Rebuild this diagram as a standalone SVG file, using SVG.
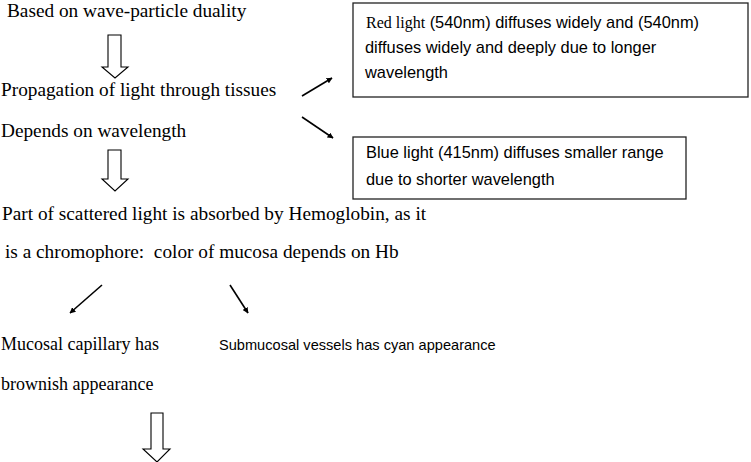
<svg xmlns="http://www.w3.org/2000/svg" width="751" height="462" viewBox="0 0 751 462">
<style>
.s{font-family:"Liberation Serif","Times New Roman",serif;font-size:19.3px;fill:#000;white-space:pre}
.m{font-family:"Liberation Serif","Times New Roman",serif;font-size:18px;fill:#000}
.b{font-family:"Liberation Sans",Arial,sans-serif;font-size:16.4px;fill:#000}
.c{font-family:"Liberation Sans",Arial,sans-serif;font-size:14.6px;fill:#000}
.box{fill:#fff;stroke:#222;stroke-width:1.3}
.hol{fill:#fff;stroke:#000;stroke-width:1.1;stroke-linejoin:miter}
.ln{stroke:#000;stroke-width:1.6;fill:none}
</style>
<defs>
<marker id="ah" viewBox="0 0 10 10" refX="9" refY="5" markerWidth="6" markerHeight="6" markerUnits="userSpaceOnUse" orient="auto">
<path d="M0,0 L10,5 L0,10 z" fill="#000"/>
</marker>
</defs>
<rect width="751" height="462" fill="#fff"/>
<g id="n1"><text class="s" x="7" y="17">Based on wave-particle duality</text></g>
<g id="n2"><text class="s" x="1" y="96">Propagation of light through tissues</text></g>
<g id="n3"><text class="s" x="1" y="137">Depends on wavelength</text></g>
<g id="n4">
<text class="s" x="2" y="220">Part of scattered light is absorbed by Hemoglobin, as it</text>
<text class="s" x="5" y="258" xml:space="preserve">is a chromophore:  color of mucosa depends on Hb</text>
</g>
<g id="n5">
<text class="m" x="1" y="350">Mucosal capillary has</text>
<text class="m" x="1" y="390">brownish appearance</text>
</g>
<g id="n6"><text class="c" x="219" y="350">Submucosal vessels has cyan appearance</text></g>
<g id="box1">
<rect class="box" x="353" y="3" width="395" height="94"/>
<text class="b" x="366" y="28"><tspan font-family="Liberation Serif, serif" font-size="16">Red light</tspan> (540nm) diffuses widely and (540nm)</text>
<text class="b" x="365" y="53">diffuses widely and deeply due to longer</text>
<text class="b" x="365" y="78">wavelength</text>
</g>
<g id="box2">
<rect class="box" x="353" y="137" width="333" height="62"/>
<text class="b" x="366" y="158">Blue light (415nm) diffuses smaller range</text>
<text class="b" x="366" y="185">due to shorter wavelength</text>
</g>
<g id="connectors">
<path class="hol" d="M108,35 H121 V67 H128 L115,78 L102,67 H108 Z"/>
<path class="hol" d="M108,150 H121 V179 H128 L115,191 L102,179 H108 Z"/>
<path class="hol" d="M151,413 H163 V449 H170 L157,462 L143,449 H151 Z"/>
<line class="ln" x1="302" y1="96" x2="332" y2="78" marker-end="url(#ah)"/>
<line class="ln" x1="302" y1="117" x2="333" y2="138" marker-end="url(#ah)"/>
<line class="ln" x1="102" y1="285" x2="70" y2="313" marker-end="url(#ah)"/>
<line class="ln" x1="230" y1="285" x2="248" y2="313" marker-end="url(#ah)"/>
</g>
</svg>
